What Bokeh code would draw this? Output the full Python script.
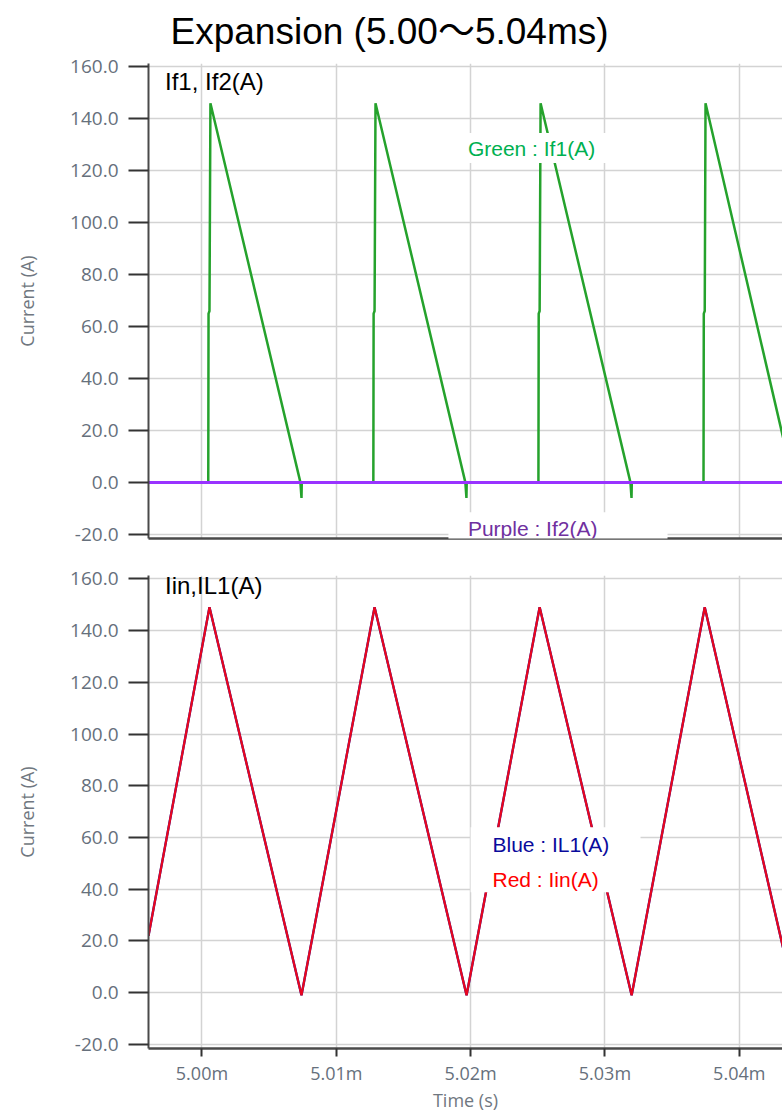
from bokeh.plotting import figure
from bokeh.layouts import column
from bokeh.models import FixedTicker, PrintfTickFormatter, Label, BoxAnnotation, Range1d
from bokeh.embed import file_html
from bokeh.resources import INLINE

# ---------------- data (time in ms, current in A) ----------------
t_if1 = [4.99600,
         5.00047, 5.00049, 5.00056, 5.00063, 5.00733, 5.00741, 5.00743,
         5.01276, 5.01278, 5.01285, 5.01292, 5.01961, 5.01969, 5.01971,
         5.02505, 5.02507, 5.02514, 5.02521, 5.03190, 5.03198, 5.03200,
         5.03734, 5.03736, 5.03743, 5.03749, 5.04350]
if1 = [0.0,
       0.0, 65.0, 66.0, 146.0, 0.0, -6.0, 0.0,
       0.0, 65.0, 66.0, 146.0, 0.0, -6.0, 0.0,
       0.0, 65.0, 66.0, 146.0, 0.0, -6.0, 0.0,
       0.0, 65.0, 66.0, 146.0, 12.0]

t_if2 = [4.99600, 5.04350]
if2 = [0.0, 0.0]

t_iin = [4.99602, 5.00056, 5.00741, 5.01285, 5.01970, 5.02514, 5.03199, 5.03743, 5.04350]
iin = [22.0, 149.0, -1.0, 149.0, -1.0, 149.0, -1.0, 149.0, 12.0]

t_il1 = [4.99602, 5.00056, 5.00741, 5.01285, 5.01970, 5.02514, 5.03199, 5.03743, 5.04350]
il1 = [22.0, 149.0, -1.0, 149.0, -1.0, 149.0, -1.0, 149.0, 12.0]

x_ticks = [5.00, 5.01, 5.02, 5.03, 5.04]
y_ticks = [-20, 0, 20, 40, 60, 80, 100, 120, 140, 160]

TITLE = "Expansion (5.00～5.04ms)"

X_RANGE = (4.99602, 5.04322)
Y_RANGE = (-21.6, 161.3)

SANS = "Liberation Sans, Arial, Noto Sans CJK JP"
TICKF = "Open Sans"
GRID = "#d3d3d3"
AXIS = "#4a4a4a"
TICKC = "#66707c"


def style(p, show_x_labels):
    p.outline_line_color = None
    p.background_fill_color = "white"
    p.border_fill_color = "white"
    p.xgrid.ticker = FixedTicker(ticks=x_ticks)
    p.ygrid.ticker = FixedTicker(ticks=y_ticks)
    for g in (p.xgrid, p.ygrid):
        g.grid_line_color = GRID
        g.grid_line_width = 1.5
    ya = p.yaxis[0]
    ya.ticker = FixedTicker(ticks=y_ticks)
    ya.formatter = PrintfTickFormatter(format="%.1f")
    ya.axis_line_color = AXIS
    ya.axis_line_width = 2
    ya.major_tick_line_color = "#333333"
    ya.major_tick_line_width = 2
    ya.major_tick_out = 20
    ya.major_tick_in = 0
    ya.minor_tick_line_color = None
    ya.major_label_standoff = 10
    ya.major_label_text_font = TICKF
    ya.major_label_text_font_size = "19px"
    ya.major_label_text_color = TICKC
    ya.axis_label = "Current (A)"
    ya.axis_label_text_font = TICKF
    ya.axis_label_text_font_size = "18px"
    ya.axis_label_text_font_style = "normal"
    ya.axis_label_text_color = "#707780"
    ya.axis_label_standoff = 28
    xa = p.xaxis[0]
    xa.formatter = PrintfTickFormatter(format="%.2fm")
    xa.axis_line_color = AXIS
    xa.axis_line_width = 2.5
    xa.minor_tick_line_color = None
    if show_x_labels:
        xa.ticker = FixedTicker(ticks=x_ticks)
        xa.major_tick_line_color = "#333333"
        xa.major_tick_line_width = 2
        xa.major_tick_out = 8
        xa.major_tick_in = 0
        xa.major_label_standoff = 4
        xa.major_label_text_font = TICKF
        xa.major_label_text_font_size = "18px"
        xa.major_label_text_color = TICKC
        xa.axis_label = "Time (s)"
        xa.axis_label_text_font = TICKF
        xa.axis_label_text_font_size = "18px"
        xa.axis_label_text_font_style = "normal"
        xa.axis_label_text_color = "#707780"
        xa.axis_label_standoff = 0
    else:
        xa.ticker = FixedTicker(ticks=[])
        xa.major_tick_line_color = None
        xa.major_tick_out = 0
        xa.major_tick_in = 0
        xa.major_label_standoff = 0


# ---------------- top chart ----------------
p1 = figure(frame_width=634, frame_height=475, output_backend="svg", toolbar_location=None,
            x_range=Range1d(*X_RANGE), y_range=Range1d(*Y_RANGE),
            min_border_left=148, min_border_right=0, min_border_top=63, min_border_bottom=10)
p1.title.text = TITLE
p1.title.text_font = SANS
p1.title.text_font_size = "37px"
p1.title.text_font_style = "normal"
p1.title.text_color = "black"
p1.title.align = "left"
p1.title.vertical_align = "top"
p1.title.offset = 22
p1.title.standoff = 19
style(p1, False)

p1.line(t_if1, if1, line_color="#25a22c", line_width=2.5)
p1.line(t_if2, if2, line_color="#9933ff", line_width=3)

p1.add_layout(Label(x=4.99725, y=154.5, text="If1, If2(A)", text_font=SANS, text_font_size="24px",
                    text_color="black", text_baseline="middle"))
p1.add_layout(BoxAnnotation(left=5.0183, right=5.0306, top=134.5, bottom=123.0,
                            fill_color="white", fill_alpha=1.0, line_color=None))
p1.add_layout(Label(x=5.0198, y=128.5, text="Green : If1(A)", text_font=SANS, text_font_size="21px",
                    text_color="#00b050", text_baseline="middle"))
p1.add_layout(BoxAnnotation(left=5.01835, right=5.03466, top=-11.5, bottom=-23.5,
                            fill_color="white", fill_alpha=1.0, line_color=None, level="overlay"))
p1.add_layout(Label(x=5.0198, y=-17.7, text="Purple : If2(A)", text_font=SANS, text_font_size="21px",
                    text_color="#7030a0", text_baseline="middle", level="overlay"))

# ---------------- bottom chart ----------------
p2 = figure(frame_width=634, frame_height=473, output_backend="svg", toolbar_location=None,
            x_range=Range1d(*X_RANGE), y_range=Range1d(*Y_RANGE),
            min_border_left=148, min_border_right=0, min_border_top=27, min_border_bottom=0)
style(p2, True)

p2.line(t_il1, il1, line_color="#1a1aa0", line_width=2.4)
p2.line(t_iin, iin, line_color="#e8061f", line_width=2.2)

p2.add_layout(Label(x=4.99725, y=157.5, text="Iin,IL1(A)", text_font=SANS, text_font_size="24px",
                    text_color="black", text_baseline="middle"))
p2.add_layout(BoxAnnotation(left=5.0200, right=5.03265, top=64.0, bottom=38.8,
                            fill_color="white", fill_alpha=1.0, line_color=None))
p2.add_layout(Label(x=5.02163, y=57.4, text="Blue : IL1(A)", text_font=SANS, text_font_size="21px",
                    text_color="#0a0a9c", text_baseline="middle"))
p2.add_layout(Label(x=5.02163, y=43.8, text="Red : Iin(A)", text_font=SANS, text_font_size="21px",
                    text_color="#ff0000", text_baseline="middle"))

layout = column(p1, p2, spacing=0)
open("out.html", "w").write(file_html(layout, INLINE))
